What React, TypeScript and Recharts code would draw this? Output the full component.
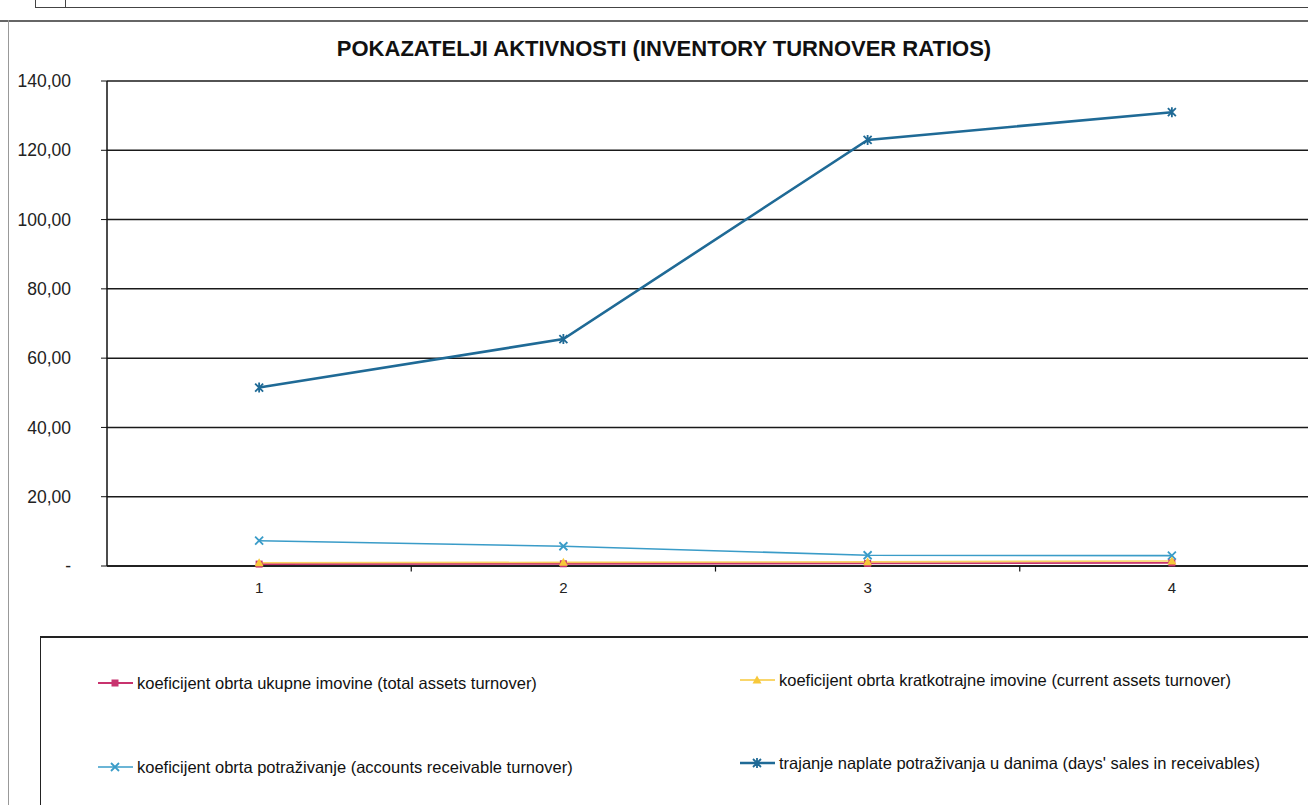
import { CartesianGrid, Line, LineChart, ReferenceLine, XAxis, YAxis } from "recharts";

// ── Data ─────────────────────────────────────────────────────────────────────
const periods = [1, 2, 3, 4];
const totalAssetsTurnover = [0.55, 0.65, 0.75, 0.9];
const currentAssetsTurnover = [0.95, 1.05, 1.2, 1.45];
const receivablesTurnover = [7.3, 5.7, 3.1, 3.0];
const daysSalesInReceivables = [51.5, 65.5, 123, 131];
const yTicks = [0, 20, 40, 60, 80, 100, 120, 140];
const boundaryTicks = [1.5, 2.5, 3.5];

const TITLE = "POKAZATELJI AKTIVNOSTI (INVENTORY TURNOVER RATIOS)";
const LABELS = {
  total: "koeficijent obrta ukupne imovine (total assets turnover)",
  current: "koeficijent obrta kratkotrajne imovine (current assets turnover)",
  receivable: "koeficijent obrta potraživanje (accounts receivable turnover)",
  days: "trajanje naplate potraživanja u danima (days' sales in receivables)",
};

const COLORS = {
  total: "#c8336e",
  current: "#f7c83a",
  receivable: "#3a9cc8",
  days: "#1f6a96",
};

const data = periods.map((p, i) => ({
  period: p,
  total: totalAssetsTurnover[i],
  current: currentAssetsTurnover[i],
  receivable: receivablesTurnover[i],
  days: daysSalesInReceivables[i],
}));

const fmtY = (v: number) => (v === 0 ? "-" : v.toFixed(2).replace(".", ","));

// ── Markers ──────────────────────────────────────────────────────────────────
type Mk = "square" | "triangle" | "x" | "star";

function Marker({ kind, cx, cy, color }: { kind: Mk; cx: number; cy: number; color: string }) {
  if (kind === "square") return <rect x={cx - 3.5} y={cy - 3.5} width={7} height={7} fill={color} />;
  if (kind === "triangle")
    return <polygon points={`${cx},${cy - 4.5} ${cx + 4.5},${cy + 3.5} ${cx - 4.5},${cy + 3.5}`} fill={color} />;
  const d = `M${cx - 4},${cy - 4}L${cx + 4},${cy + 4}M${cx - 4},${cy + 4}L${cx + 4},${cy - 4}` +
    (kind === "star" ? `M${cx},${cy - 5}L${cx},${cy + 5}` : "");
  return <path d={d} stroke={color} strokeWidth={1.8} fill="none" />;
}

const dotFor = (kind: Mk, color: string) => (props: any) =>
  <Marker key={`${kind}-${props.index}`} kind={kind} cx={props.cx} cy={props.cy} color={color} />;

function LegendItem({ kind, color, label, width, x, y }: { kind: Mk; color: string; label: string; width: number; x: number; y: number }) {
  return (
    <div style={{ position: "absolute", left: x, top: y - 12, height: 24, display: "flex", alignItems: "center" }}>
      <svg width={37} height={14}>
        <line x1={1} y1={7} x2={36} y2={7} stroke={color} strokeWidth={width} />
        <Marker kind={kind} cx={18} cy={7} color={color} />
      </svg>
      <span style={{ marginLeft: 3, fontSize: 16.5, color: "#111", whiteSpace: "nowrap" }}>{label}</span>
    </div>
  );
}

export default function App() {
  return (
    <div
      style={{
        position: "fixed", left: 0, top: 0, width: 1308, height: 805, overflow: "hidden",
        background: "#fff", fontFamily: '"Liberation Sans", Arial, sans-serif',
      }}
    >
      {/* scan leftovers: table row above and chart frame */}
      <div style={{ position: "absolute", left: 35, top: 7, width: 1280, height: 0, borderTop: "1px solid #444" }} />
      <div style={{ position: "absolute", left: 35, top: 0, width: 0, height: 8, borderLeft: "1px solid #444" }} />
      <div style={{ position: "absolute", left: 65, top: 0, width: 0, height: 8, borderLeft: "1px solid #444" }} />
      <div style={{ position: "absolute", left: 0, top: 20, width: 1308, height: 0, borderTop: "2px solid #666" }} />
      <div style={{ position: "absolute", left: 8, top: 20, width: 0, height: 785, borderLeft: "1px solid #999" }} />

      <div style={{ position: "absolute", left: 0, top: 36, width: 1328, textAlign: "center", fontSize: 22, fontWeight: "bold", color: "#111" }}>
        {TITLE}
      </div>

      <div style={{ position: "absolute", left: 0, top: 0 }}>
        <LineChart width={1330} height={805} data={data} margin={{ top: 81, right: 6, bottom: 209, left: 47 }}>
          <CartesianGrid vertical={false} stroke="#1a1a1a" strokeWidth={1.5} />
          <XAxis
            dataKey="period" type="number" domain={[0.5, 4.5]} ticks={periods} allowDataOverflow
            height={30} tickLine={false} tickMargin={10}
            axisLine={{ stroke: "#111", strokeWidth: 1.5 }}
            tick={{ fontSize: 15, fill: "#222" }}
          />
          <YAxis
            domain={[0, 140]} ticks={yTicks} tickFormatter={fmtY} width={60}
            tickSize={6} tickMargin={30}
            axisLine={{ stroke: "#111", strokeWidth: 1.5 }}
            tickLine={{ stroke: "#111" }}
            tick={{ fontSize: 17.5, fill: "#222" }}
          />
          {boundaryTicks.map((b) => (
            <ReferenceLine key={b} segment={[{ x: b, y: 0 }, { x: b, y: -1.6 }]} ifOverflow="visible" stroke="#111" strokeWidth={1.2} />
          ))}
          <Line dataKey="receivable" stroke={COLORS.receivable} strokeWidth={1.6} dot={dotFor("x", COLORS.receivable)} isAnimationActive={false} />
          <Line dataKey="days" stroke={COLORS.days} strokeWidth={2.6} dot={dotFor("star", COLORS.days)} isAnimationActive={false} />
          <Line dataKey="total" stroke={COLORS.total} strokeWidth={1.8} dot={dotFor("square", COLORS.total)} isAnimationActive={false} />
          <Line dataKey="current" stroke={COLORS.current} strokeWidth={1.6} strokeOpacity={0.8} dot={dotFor("triangle", COLORS.current)} isAnimationActive={false} />
        </LineChart>
      </div>

      {/* legend box */}
      <div style={{ position: "absolute", left: 40, top: 636, width: 1280, height: 200, borderTop: "2px solid #222", borderLeft: "1.5px solid #222" }} />
      <LegendItem kind="square" color={COLORS.total} width={1.8} label={LABELS.total} x={97} y={683} />
      <LegendItem kind="triangle" color={COLORS.current} width={1.6} label={LABELS.current} x={739} y={680} />
      <LegendItem kind="x" color={COLORS.receivable} width={1.6} label={LABELS.receivable} x={97} y={767} />
      <LegendItem kind="star" color={COLORS.days} width={2.6} label={LABELS.days} x={739} y={763} />
    </div>
  );
}
